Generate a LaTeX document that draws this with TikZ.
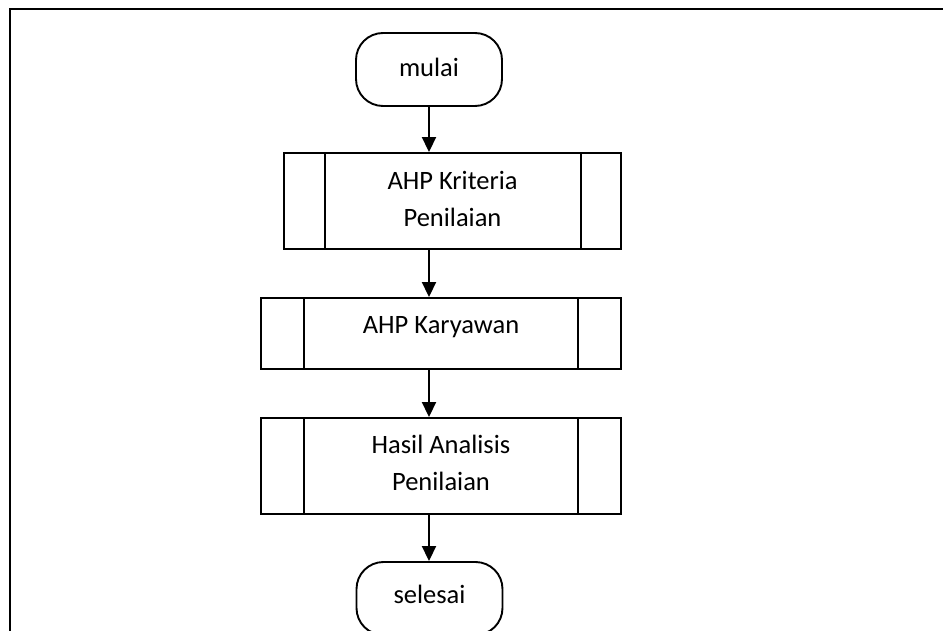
\documentclass[tikz,border=0pt]{standalone}
\usepackage{fontspec}
\setmainfont{Carlito}
\usetikzlibrary{arrows.meta}
\tikzset{
  terminal/.style={draw=black, line width=1.9pt, rounded corners=27pt, minimum width=146pt, minimum height=73pt, inner sep=0pt},
  procbox/.style={draw=black, line width=1.9pt, inner sep=0pt},
  sidebar/.style={draw=black, line width=1.9pt},
  lbl/.style={anchor=base, inner sep=0pt, font=\fontsize{26.5pt}{32pt}\selectfont},
  flow/.style={draw=black, line width=1.9pt, -{Triangle[length=15pt,width=14pt]}},
  frame/.style={draw=black, line width=2.6pt}
}
\begin{document}
\begin{tikzpicture}[x=1pt,y=-1pt]
\useasboundingbox (0,0) rectangle (943,631);
\clip (0,0) rectangle (943,631);
\fill[white] (0,0) rectangle (943,631);
\draw[frame] (10,9) rectangle (990,700);

% terminals
\node[terminal] (start) at (429,69.5) {};
\node[lbl] (tstart) at (429,77) {mulai};
\node[terminal] (stop) at (429.5,598.5) {};
\node[lbl] (tstop) at (429.5,603) {selesai};

% process boxes
\node[procbox, minimum width=337pt, minimum height=96pt] (b1) at (452.5,201) {};
\draw[sidebar] (325,153) -- (325,249);
\draw[sidebar] (581,153) -- (581,249);
\node[lbl] (t1a) at (452.5,190) {AHP Kriteria};
\node[lbl] (t1b) at (452.5,227) {Penilaian};

\node[procbox, minimum width=360pt, minimum height=71pt] (b2) at (441,333.5) {};
\draw[sidebar] (304,298) -- (304,369);
\draw[sidebar] (578,298) -- (578,369);
\node[lbl] (t2) at (441,333) {AHP Karyawan};

\node[procbox, minimum width=360pt, minimum height=96pt] (b3) at (441,466) {};
\draw[sidebar] (304,418) -- (304,514);
\draw[sidebar] (578,418) -- (578,514);
\node[lbl] (t3a) at (441,453) {Hasil Analisis};
\node[lbl] (t3b) at (441,490) {Penilaian};

% connectors
\draw[flow] (start.south) -- (start.south |- b1.north);
\draw[flow] (start.south |- b1.south) -- (start.south |- b2.north);
\draw[flow] (start.south |- b2.south) -- (start.south |- b3.north);
\draw[flow] (start.south |- b3.south) -- (stop.north -| start.south);
\end{tikzpicture}
\end{document}
